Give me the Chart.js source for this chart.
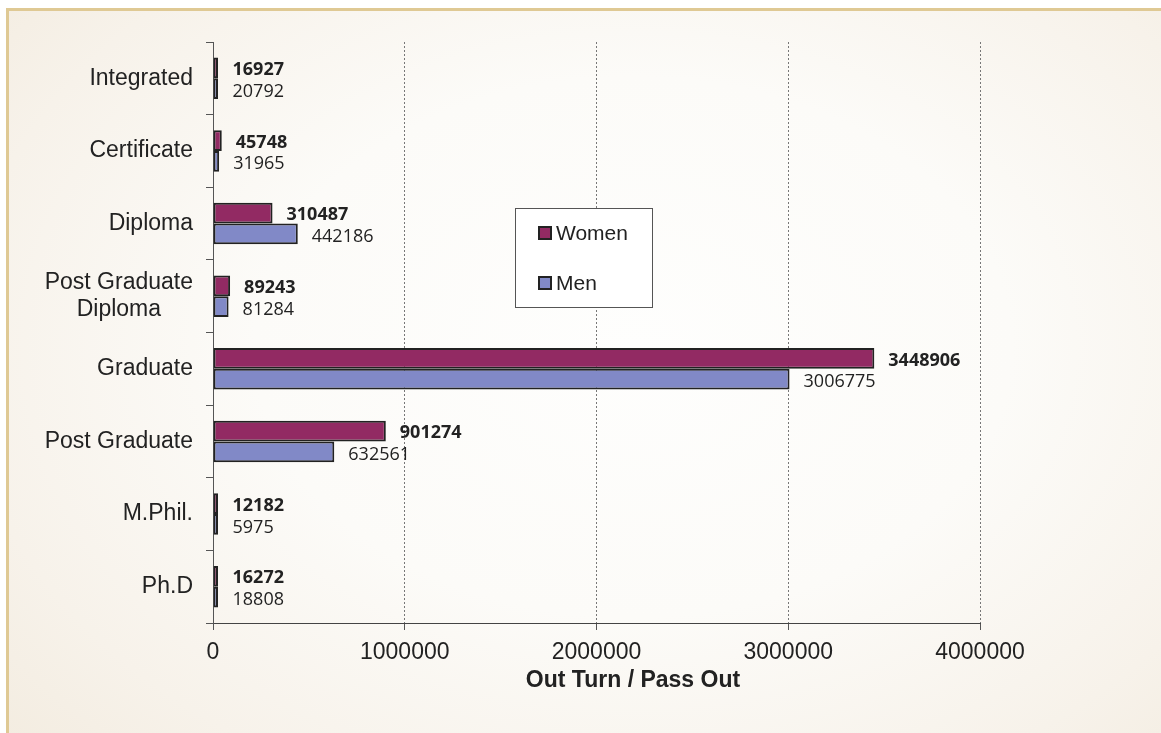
<!DOCTYPE html>
<html>
<head>
<meta charset="utf-8">
<script src="https://cdn.jsdelivr.net/npm/chart.js"></script>
<style>
  html, body { margin: 0; padding: 0; background: #ffffff; }
  #wrap { position: relative; width: 1161px; height: 733px; overflow: hidden; }
  #frame {
    position: absolute; left: 6px; top: 8px; width: 1200px; height: 800px;
    border-top: 3px solid #dfc994; border-left: 3px solid #dfc994;
    background: radial-gradient(ellipse 70% 75% at 52% 42%, #fefefd 0%, #fcfbf8 45%, #f7f2ea 80%, #f3ece0 100%);
  }
  #eduChart { position: absolute; left: 0; top: 0; }
</style>
</head>
<body>
<div id="wrap">
  <div id="frame"></div>
  <canvas id="eduChart" width="1161" height="733"></canvas>
</div>
<script>
// courses, top to bottom
const courses = [
    "Integrated",
    "Certificate",
    "Diploma",
    ["Post Graduate", "Diploma"],
    "Graduate",
    "Post Graduate",
    "M.Phil.",
    "Ph.D"
];

const women = [16927, 45748, 310487, 89243, 3448906, 901274, 12182, 16272];
const men = [20792, 31965, 442186, 81284, 3006775, 632561, 5975, 18808];

const xTicks = [0, 1000000, 2000000, 3000000, 4000000];
const xTitle = "Out Turn / Pass Out";

const WOMEN_COLOR = "#922a63";
const MEN_COLOR = "#8189c7";

// category names, bar values, title and legend box
const extrasPlugin = {
    id: "extras",
    afterDraw(chart) {
        const ctx = chart.ctx;
        const yScale = chart.scales.y;
        const xScale = chart.scales.x;
        ctx.save();

        // category labels (right aligned, multi-line centered)
        ctx.fillStyle = "#222";
        ctx.font = "23px 'Liberation Sans', Arial, sans-serif";
        ctx.textBaseline = "middle";
        courses.forEach((c, i) => {
            const yc = yScale.getPixelForValue(i);
            const lines = Array.isArray(c) ? c : [c];
            const w = Math.max(...lines.map(l => ctx.measureText(l).width));
            const cx = 193 - w / 2;
            const lh = 27;
            ctx.textAlign = "center";
            lines.forEach((l, k) => {
                ctx.fillText(l, cx, yc + (k - (lines.length - 1) / 2) * lh);
            });
        });

        // value labels
        chart.data.datasets.forEach((ds, di) => {
            const meta = chart.getDatasetMeta(di);
            ctx.font = (di === 0 ? "bold " : "") + "18px 'Open Sans', sans-serif";
            ctx.textAlign = "left";
            meta.data.forEach((bar, i) => {
                const x = Math.max(bar.x, bar.base + 5) + 14;
                ctx.fillText(String(ds.data[i]), x, bar.y + (di === 0 ? 2 : 3));
            });
        });

        // axis title
        ctx.font = "bold 23px 'Liberation Sans', Arial, sans-serif";
        ctx.textAlign = "center";
        ctx.fillText(xTitle, 633, 681);

        // legend box
        const lx = 515, ly = 208, lw = 137, lh = 99;
        ctx.fillStyle = "#ffffff";
        ctx.fillRect(lx, ly, lw, lh);
        ctx.strokeStyle = "#555";
        ctx.lineWidth = 1;
        ctx.strokeRect(lx + 0.5, ly + 0.5, lw, lh);
        const rows = [25, 75];
        chart.data.datasets.forEach((ds, di) => {
            const ry = ly + rows[di];
            ctx.fillStyle = ds.backgroundColor;
            ctx.fillRect(lx + 24, ry - 6, 12, 12);
            ctx.strokeStyle = "#222";
            ctx.lineWidth = 2;
            ctx.strokeRect(lx + 24, ry - 6, 12, 12);
            ctx.fillStyle = "#222";
            ctx.font = "21px 'Liberation Sans', Arial, sans-serif";
            ctx.textAlign = "left";
            ctx.textBaseline = "middle";
            ctx.fillText(ds.label, lx + 41, ry + 1);
        });
        ctx.restore();
    }
};

new Chart(document.getElementById("eduChart").getContext("2d"), {
    type: "bar",
    data: {
        labels: courses,
        datasets: [{
            label: "Women",
            data: women,
            backgroundColor: WOMEN_COLOR,
            borderColor: "#222",
            borderWidth: 2,
            borderSkipped: false
        }, {
            label: "Men",
            data: men,
            backgroundColor: MEN_COLOR,
            borderColor: "#222",
            borderWidth: 2,
            borderSkipped: false
        }]
    },
    options: {
        indexAxis: "y",
        responsive: false,
        animation: false,
        devicePixelRatio: 1,
        minBarLength: 5,
        categoryPercentage: 0.57,
        barPercentage: 1.0,
        layout: { padding: { top: 42, right: 181, left: 0, bottom: 0 } },
        plugins: {
            legend: { display: false },
            tooltip: { enabled: false }
        },
        scales: {
            x: {
                min: 0,
                max: 4000000,
                afterFit(scale) { scale.height = 110; },
                afterBuildTicks(scale) { scale.ticks = xTicks.map(v => ({ value: v })); },
                ticks: {
                    callback: v => String(v),
                    color: "#222",
                    padding: 9,
                    maxRotation: 0,
                    font: { family: "'Liberation Sans', Arial, sans-serif", size: 23 }
                },
                grid: { color: "#777", lineWidth: 1, tickLength: 7, tickColor: "#555" },
                border: { color: "#444", width: 1, dash: [2, 2] }
            },
            y: {
                afterFit(scale) { scale.width = 213; },
                ticks: { display: false },
                grid: { drawOnChartArea: false, offset: true, tickLength: 7, color: "#555" },
                border: { color: "#555", width: 1 }
            }
        }
    },
    plugins: [extrasPlugin]
});
</script>
</body>
</html>
